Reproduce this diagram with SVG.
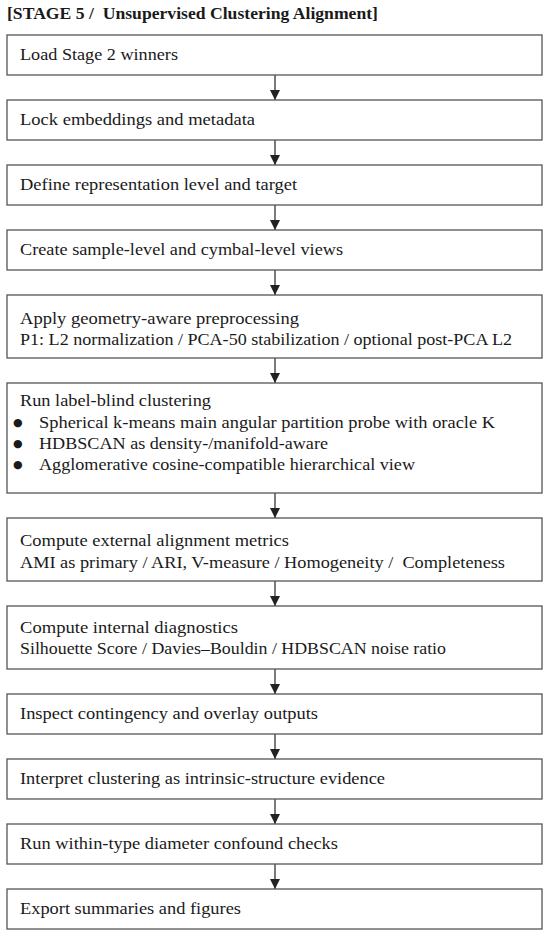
<svg xmlns="http://www.w3.org/2000/svg" width="550" height="935" viewBox="0 0 550 935">
<defs>
<style>
text{white-space:pre}
.box{fill:#fff;stroke:#555;stroke-width:1.3}
.t{font-family:"Liberation Serif","Times New Roman",serif;font-size:16.5px;fill:#1a1a1a}
.title{font-family:"Liberation Serif","Times New Roman",serif;font-size:16.5px;font-weight:bold;fill:#1a1a1a}
.con{stroke:#333;stroke-width:1.3;fill:none}
.b{font-family:"DejaVu Sans",sans-serif;font-size:11px;fill:#1a1a1a}
</style>
<marker id="ah" viewBox="0 0 10 10" refX="10" refY="5" markerWidth="11" markerHeight="10" markerUnits="userSpaceOnUse" orient="auto">
<path d="M0,0 L10,5 L0,10 Z" fill="#222"/>
</marker>
</defs>
<rect width="550" height="935" fill="#fff"/>
<text class="title" x="7" y="19" textLength="371" lengthAdjust="spacingAndGlyphs" xml:space="preserve">[STAGE 5 /  Unsupervised Clustering Alignment]</text>

<g id="connectors">
<line class="con" x1="275" y1="75" x2="275" y2="100" marker-end="url(#ah)"/>
<line class="con" x1="275" y1="140" x2="275" y2="165" marker-end="url(#ah)"/>
<line class="con" x1="275" y1="205" x2="275" y2="230" marker-end="url(#ah)"/>
<line class="con" x1="275" y1="270" x2="275" y2="295" marker-end="url(#ah)"/>
<line class="con" x1="275" y1="358" x2="275" y2="383" marker-end="url(#ah)"/>
<line class="con" x1="275" y1="493" x2="275" y2="518" marker-end="url(#ah)"/>
<line class="con" x1="275" y1="581" x2="275" y2="606" marker-end="url(#ah)"/>
<line class="con" x1="275" y1="669" x2="275" y2="694" marker-end="url(#ah)"/>
<line class="con" x1="275" y1="734" x2="275" y2="759" marker-end="url(#ah)"/>
<line class="con" x1="275" y1="799" x2="275" y2="824" marker-end="url(#ah)"/>
<line class="con" x1="275" y1="864" x2="275" y2="889" marker-end="url(#ah)"/>
</g>

<g id="n1"><rect class="box" x="7" y="35" width="535" height="40"/>
<text class="t" x="20" y="60" textLength="158" lengthAdjust="spacingAndGlyphs">Load Stage 2 winners</text></g>

<g id="n2"><rect class="box" x="7" y="100" width="535" height="40"/>
<text class="t" x="20" y="125" textLength="235" lengthAdjust="spacingAndGlyphs">Lock embeddings and metadata</text></g>

<g id="n3"><rect class="box" x="7" y="165" width="535" height="40"/>
<text class="t" x="20" y="190" textLength="277" lengthAdjust="spacingAndGlyphs">Define representation level and target</text></g>

<g id="n4"><rect class="box" x="7" y="230" width="535" height="40"/>
<text class="t" x="20" y="255" textLength="323" lengthAdjust="spacingAndGlyphs">Create sample-level and cymbal-level views</text></g>

<g id="n5"><rect class="box" x="7" y="295" width="535" height="63"/>
<text class="t" x="20" y="324" textLength="279" lengthAdjust="spacingAndGlyphs">Apply geometry-aware preprocessing</text>
<text class="t" x="20" y="345" textLength="492" lengthAdjust="spacingAndGlyphs">P1: L2 normalization / PCA-50 stabilization / optional post-PCA L2</text></g>

<g id="n6"><rect class="box" x="7" y="383" width="535" height="110"/>
<text class="t" x="20" y="406" textLength="191" lengthAdjust="spacingAndGlyphs">Run label-blind clustering</text>
<text class="b" x="13" y="426">●</text>
<text class="t" x="39" y="428" textLength="456" lengthAdjust="spacingAndGlyphs">Spherical k-means main angular partition probe with oracle K</text>
<text class="b" x="13" y="447">●</text>
<text class="t" x="39" y="449" textLength="289" lengthAdjust="spacingAndGlyphs">HDBSCAN as density-/manifold-aware</text>
<text class="b" x="13" y="468">●</text>
<text class="t" x="39" y="470" textLength="376" lengthAdjust="spacingAndGlyphs">Agglomerative cosine-compatible hierarchical view</text></g>

<g id="n7"><rect class="box" x="7" y="518" width="535" height="63"/>
<text class="t" x="20" y="546" textLength="269" lengthAdjust="spacingAndGlyphs">Compute external alignment metrics</text>
<text class="t" x="20" y="568" textLength="485" lengthAdjust="spacingAndGlyphs" xml:space="preserve">AMI as primary / ARI, V-measure / Homogeneity /  Completeness</text></g>

<g id="n8"><rect class="box" x="7" y="606" width="535" height="63"/>
<text class="t" x="20" y="633" textLength="218" lengthAdjust="spacingAndGlyphs">Compute internal diagnostics</text>
<text class="t" x="20" y="654" textLength="426" lengthAdjust="spacingAndGlyphs">Silhouette Score / Davies–Bouldin / HDBSCAN noise ratio</text></g>

<g id="n9"><rect class="box" x="7" y="694" width="535" height="40"/>
<text class="t" x="20" y="719" textLength="298" lengthAdjust="spacingAndGlyphs">Inspect contingency and overlay outputs</text></g>

<g id="n10"><rect class="box" x="7" y="759" width="535" height="40"/>
<text class="t" x="20" y="784" textLength="365" lengthAdjust="spacingAndGlyphs">Interpret clustering as intrinsic-structure evidence</text></g>

<g id="n11"><rect class="box" x="7" y="824" width="535" height="40"/>
<text class="t" x="20" y="849" textLength="318" lengthAdjust="spacingAndGlyphs">Run within-type diameter confound checks</text></g>

<g id="n12"><rect class="box" x="7" y="889" width="535" height="40"/>
<text class="t" x="20" y="914" textLength="221" lengthAdjust="spacingAndGlyphs">Export summaries and figures</text></g>
</svg>
